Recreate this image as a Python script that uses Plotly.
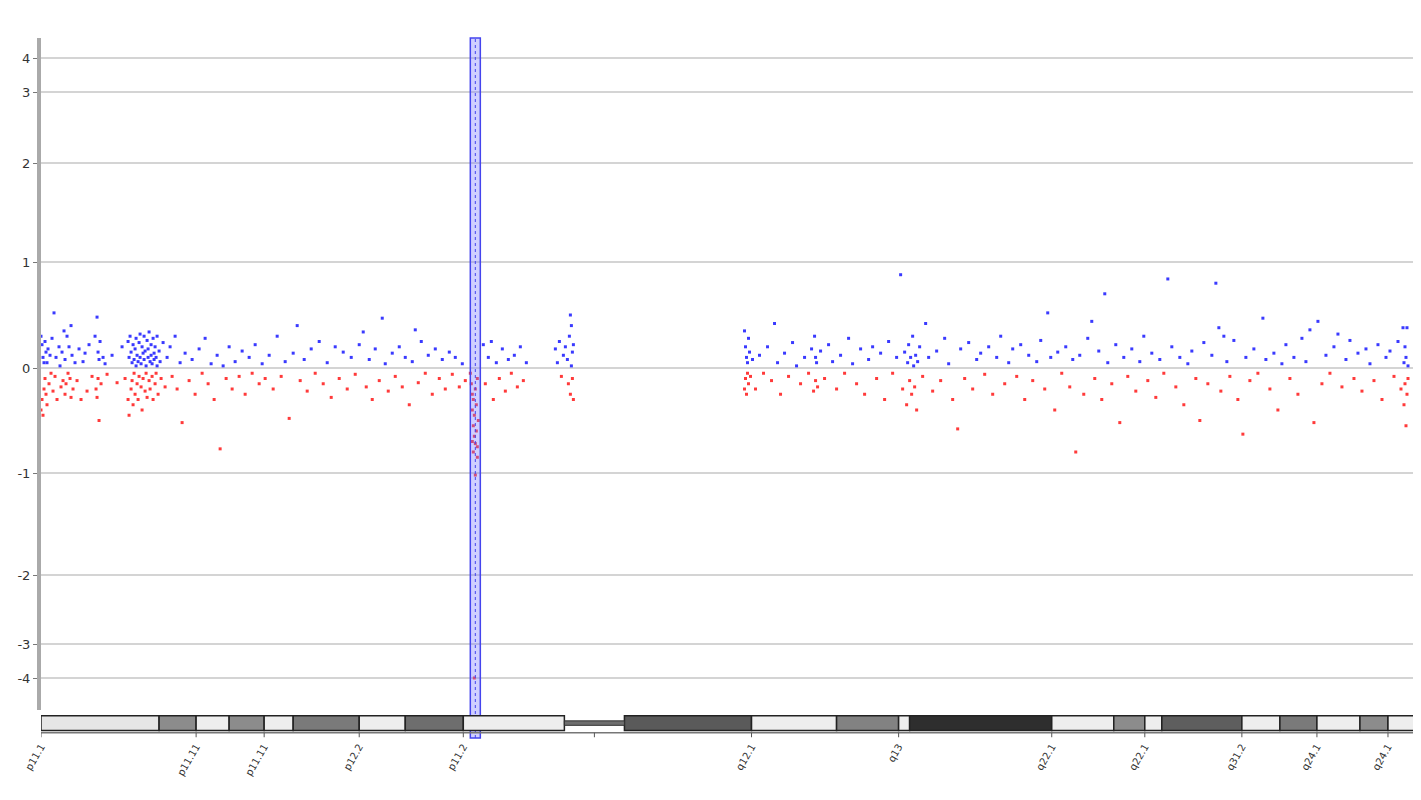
import numpy as np
import plotly.graph_objects as go

# y axis of the viewer is compressed: tick value -> screen level
tick_vals = [-4, -3, -2, -1, 0, 1, 2, 3, 4]
tick_level = [670, 636, 567, 465, 360, 254, 155, 84, 50]

# probe positions / log ratios (p arm)
p_arm = [
    (34, 0.30), (34, -0.40), (35, 0.22), (35, -0.30), (36, 0.10), (36, -0.45), (37, 0.05), (37, -0.20),
    (38, 0.25), (38, -0.10), (39, 0.15), (39, -0.25), (40, 0.05), (40, -0.35), (41, 0.18), (42, -0.15),
    (43, 0.12), (44, -0.05), (45, 0.28), (46, -0.22), (47, 0.52), (48, -0.08), (49, 0.10), (50, -0.30),
    (52, 0.20), (53, 0.02), (54, -0.18), (55, 0.15), (56, -0.12), (57, 0.35), (58, -0.25), (58, 0.08),
    (59, -0.15), (60, 0.30), (61, -0.05), (62, 0.20), (63, -0.10), (64, 0.40), (64, -0.28), (65, 0.12),
    (66, -0.20), (68, 0.05), (70, -0.12), (72, 0.18), (74, -0.30), (76, 0.06), (78, 0.14), (80, -0.22),
    (82, 0.22), (85, -0.08), (88, 0.30), (89, -0.20), (90, 0.48), (90, -0.28), (91, 0.15), (91, -0.10),
    (92, 0.08), (92, -0.50), (93, 0.25), (94, -0.15), (96, 0.10), (98, 0.04), (100, -0.06), (105, 0.12),
    (110, -0.14), (115, 0.20), (118, -0.10),
    (121, 0.25), (121, -0.30), (122, 0.10), (122, -0.45), (123, 0.30), (124, -0.20), (124, 0.15),
    (125, 0.05), (125, -0.12), (126, 0.22), (126, -0.35), (127, 0.08), (127, -0.05), (128, 0.18),
    (128, -0.25), (129, 0.28), (129, 0.02), (130, -0.15), (130, 0.12), (131, 0.06), (131, -0.30),
    (132, 0.24), (132, -0.08), (133, 0.32), (133, 0.10), (134, -0.18), (134, 0.04), (135, 0.20),
    (135, -0.40), (136, 0.14), (136, -0.10), (137, 0.30), (137, 0.08), (138, -0.22), (138, 0.16),
    (139, 0.02), (139, -0.05), (140, 0.26), (140, -0.28), (141, 0.10), (141, 0.18), (142, -0.12),
    (142, 0.34), (143, 0.06), (143, -0.20), (144, 0.22), (144, 0.12), (145, -0.08), (145, 0.04),
    (146, 0.28), (146, -0.30), (147, 0.14), (147, 0.08), (148, -0.15), (148, 0.20), (149, 0.10),
    (149, -0.05), (150, 0.30), (150, 0.02), (151, -0.25), (152, 0.16), (153, 0.06), (154, -0.10),
    (156, 0.24), (158, -0.18), (160, 0.10), (163, 0.20), (165, -0.08), (168, 0.30), (170, -0.20),
    (173, 0.05), (175, -0.52), (178, 0.14), (182, -0.12), (185, 0.08), (188, -0.25), (192, 0.18),
    (195, -0.05), (198, 0.28), (201, -0.15), (204, 0.04), (207, -0.30), (210, 0.12), (213, -0.77),
    (216, 0.02), (219, -0.10), (222, 0.20), (225, -0.20), (228, 0.06), (232, -0.08), (235, 0.16),
    (238, -0.25), (242, 0.10), (245, -0.05), (248, 0.22), (252, -0.15), (255, 0.04), (258, -0.10),
    (262, 0.12), (266, -0.20), (270, 0.30), (274, -0.08), (278, 0.06), (282, -0.48), (286, 0.14),
    (290, 0.40), (293, -0.12), (297, 0.08), (300, -0.22), (304, 0.18), (308, -0.05), (312, 0.25),
    (316, -0.15), (320, 0.05), (324, -0.28), (328, 0.20), (332, -0.10), (336, 0.15), (340, -0.20),
    (344, 0.10), (348, -0.06), (352, 0.22), (356, 0.34), (359, -0.18), (362, 0.08), (365, -0.30),
    (368, 0.18), (372, -0.12), (375, 0.47), (378, 0.04), (381, -0.22), (385, 0.14), (388, -0.08),
    (392, 0.20), (395, -0.18), (398, 0.10), (402, -0.35), (405, 0.06), (408, 0.36), (411, -0.14),
    (414, 0.25), (418, -0.05), (421, 0.12), (425, -0.25), (428, 0.18), (432, -0.10), (435, 0.08),
    (438, -0.20), (442, 0.15), (445, -0.06), (448, 0.10), (452, -0.18), (455, 0.04), (458, -0.12),
    (476, 0.22), (478, -0.15), (481, 0.10), (484, 0.25), (486, -0.30), (489, 0.05), (492, -0.10),
    (495, 0.18), (498, -0.22), (501, 0.08), (504, -0.05), (507, 0.12), (510, -0.18), (513, 0.20),
    (516, -0.12), (519, 0.05),
    (548, 0.18), (550, 0.05), (552, 0.25), (554, -0.08), (556, 0.12), (558, 0.20), (560, 0.08),
    (561, -0.15), (562, 0.30), (563, 0.50), (563, -0.25), (564, 0.40), (564, 0.02), (565, -0.10),
    (565, 0.15), (566, -0.30), (566, 0.22),
]

# the highlighted region (log ratio drop)
loss_pos = [463, 464, 465, 465, 466, 466, 467, 467, 468, 468, 469, 469, 470, 470, 471, 466, 468, 470, 467, 465]
loss_val = [-0.05, -0.15, -0.25, -0.40, -0.30, -0.55, -0.45, -0.65, -0.20, -0.72, -0.35, -0.60,
            -0.10, -0.75, -0.50, -0.80, -1.02, -0.85, -4.0, -0.70]

# q arm
q_arm = [
    (737, 0.35), (737, -0.20), (738, 0.20), (738, -0.10), (739, 0.10), (739, -0.25), (740, 0.05),
    (740, -0.05), (741, 0.28), (741, -0.15), (742, 0.15), (743, -0.08), (745, 0.08), (748, -0.20),
    (752, 0.12), (756, -0.05), (760, 0.20), (764, -0.12), (767, 0.42), (770, 0.05), (773, -0.25),
    (777, 0.14), (781, -0.08), (785, 0.24), (789, 0.02), (793, -0.15), (797, 0.10), (801, -0.05),
    (804, 0.18), (806, -0.22), (807, 0.30), (808, -0.12), (808, 0.10), (809, 0.05), (810, -0.18),
    (813, 0.16), (817, -0.10), (821, 0.22), (825, 0.06), (829, -0.20), (833, 0.12), (837, -0.05),
    (841, 0.28), (845, 0.04), (849, -0.15), (853, 0.18), (857, -0.25), (861, 0.08), (865, 0.20),
    (869, -0.10), (873, 0.14), (877, -0.30), (881, 0.25), (885, -0.05), (889, 0.10), (893, 0.88),
    (895, -0.20), (897, 0.15), (899, -0.35), (900, 0.05), (901, 0.22), (902, -0.12), (903, 0.10),
    (904, -0.25), (905, 0.30), (906, 0.02), (907, -0.18), (908, 0.12), (909, -0.40), (910, 0.06),
    (912, 0.20), (915, -0.08), (918, 0.42), (921, 0.10), (925, -0.22), (929, 0.16), (933, -0.12),
    (937, 0.28), (941, 0.04), (945, -0.30), (950, -0.58), (953, 0.18), (957, -0.10), (961, 0.24),
    (965, -0.20), (969, 0.08), (973, 0.14), (977, -0.06), (981, 0.20), (985, -0.25), (989, 0.10),
    (993, 0.30), (997, -0.15), (1001, 0.05), (1005, 0.18), (1009, -0.08), (1013, 0.22), (1017, -0.30),
    (1021, 0.12), (1025, -0.12), (1029, 0.06), (1033, 0.26), (1037, -0.20), (1040, 0.52), (1043, 0.10),
    (1047, -0.40), (1050, 0.15), (1054, -0.05), (1058, 0.20), (1062, -0.18), (1065, 0.08), (1068, -0.80),
    (1072, 0.12), (1076, -0.25), (1080, 0.28), (1084, 0.44), (1087, -0.10), (1091, 0.16), (1094, -0.30),
    (1097, 0.70), (1100, 0.05), (1104, -0.15), (1108, 0.22), (1112, -0.52), (1116, 0.10), (1120, -0.08),
    (1124, 0.18), (1128, -0.22), (1132, 0.06), (1136, 0.30), (1140, -0.12), (1144, 0.14), (1148, -0.28),
    (1152, 0.08), (1156, -0.05), (1160, 0.84), (1164, 0.20), (1168, -0.18), (1172, 0.10), (1176, -0.35),
    (1180, 0.04), (1184, 0.16), (1188, -0.10), (1192, -0.50), (1196, 0.24), (1200, -0.15), (1204, 0.12),
    (1208, 0.80), (1211, 0.38), (1213, -0.22), (1216, 0.30), (1219, 0.06), (1222, -0.08), (1226, 0.26),
    (1230, -0.30), (1235, -0.63), (1238, 0.10), (1242, -0.12), (1246, 0.18), (1250, -0.05), (1255, 0.47),
    (1258, 0.08), (1262, -0.20), (1266, 0.14), (1270, -0.40), (1274, 0.04), (1278, 0.22), (1282, -0.10),
    (1286, 0.10), (1290, -0.25), (1294, 0.28), (1298, 0.06), (1302, 0.36), (1306, -0.52), (1310, 0.44),
    (1314, -0.15), (1318, 0.12), (1322, -0.05), (1326, 0.20), (1330, 0.32), (1334, -0.18), (1338, 0.08),
    (1342, 0.26), (1346, -0.10), (1350, 0.14), (1354, -0.22), (1358, 0.18), (1362, 0.04), (1366, -0.12),
    (1370, 0.22), (1374, -0.30), (1378, 0.10), (1382, 0.16), (1386, -0.08), (1390, 0.25), (1393, -0.20),
    (1395, 0.38), (1396, 0.05), (1396, -0.35), (1397, 0.20), (1397, -0.15), (1398, -0.55), (1398, 0.10),
    (1399, 0.38), (1399, -0.25), (1400, 0.02), (1400, -0.10),
]

# cytoband ideogram: start, end, stain shade
band_start = [34, 152, 189, 222, 257, 286, 352, 398, 456, 617, 744, 829, 891, 902, 1044, 1106, 1137,
              1154, 1234, 1272, 1309, 1352, 1380]
band_end = [152, 189, 222, 257, 286, 352, 398, 456, 557, 744, 829, 891, 902, 1044, 1106, 1137, 1154,
            1234, 1272, 1309, 1352, 1380, 1406]
band_color = ["#e6e6e6", "#8c8c8c", "#eeeeee", "#8c8c8c", "#eeeeee", "#7a7a7a", "#eeeeee", "#6e6e6e",
              "#eeeeee", "#5a5a5a", "#eeeeee", "#828282", "#eeeeee", "#2e2e2e", "#eeeeee", "#8c8c8c",
              "#eeeeee", "#5e5e5e", "#eeeeee", "#7a7a7a", "#eeeeee", "#8c8c8c", "#eeeeee"]
centromere = (557, 617)

band_tick_pos = [34, 189, 257, 352, 456, 587, 744, 891, 1044, 1137, 1234, 1309, 1380]
band_tick_text = ["p11.1", "p11.11", "p11.11", "p12.2", "p11.2", "", "q12.1", "q13", "q22.1",
                  "q22.1", "q31.2", "q24.1", "q24.1"]

highlight = (463, 473)


def level(v):
    return -np.interp(v, tick_vals, tick_level)


pos = np.array([p[0] for p in p_arm + q_arm] + loss_pos)
val = np.array([p[1] for p in p_arm + q_arm] + loss_val)
gain = val >= 0

fig = go.Figure()
fig.add_trace(go.Scatter(x=pos[gain], y=level(val[gain]), mode="markers",
                         marker=dict(symbol="square", size=3, color="#3a3aff"), xaxis="x", yaxis="y"))
fig.add_trace(go.Scatter(x=pos[~gain], y=level(val[~gain]), mode="markers",
                         marker=dict(symbol="square", size=3, color="#ff3a3a"), xaxis="x", yaxis="y"))

shapes = []
# highlighted region across the whole plot
shapes.append(dict(type="rect", xref="x", yref="paper", x0=highlight[0], x1=highlight[1], y0=0, y1=1,
                   fillcolor="rgba(120,120,255,0.35)", line=dict(color="#4444ee", width=1.5)))
shapes.append(dict(type="line", xref="x", yref="paper", x0=sum(highlight) / 2, x1=sum(highlight) / 2,
                   y0=0, y1=1, line=dict(color="#4444ee", width=1, dash="dot")))
# ideogram bands
for s, e, c in zip(band_start, band_end, band_color):
    shapes.append(dict(type="rect", xref="x", yref="y2", x0=s, x1=e, y0=0, y1=1,
                       fillcolor=c, line=dict(color="#222222", width=1.5)))
shapes.append(dict(type="rect", xref="x", yref="y2", x0=centromere[0], x1=centromere[1], y0=0.35, y1=0.65,
                   fillcolor="#6e6e6e", line=dict(color="#333333", width=1)))
# baseline of ideogram
shapes.append(dict(type="line", xref="x", yref="y2", x0=band_start[0], x1=band_end[-1], y0=-0.15, y1=-0.15,
                   line=dict(color="#777777", width=1.5)))
for t in band_tick_pos:
    shapes.append(dict(type="line", xref="x", yref="y2", x0=t, x1=t, y0=-0.15, y1=-0.45,
                       line=dict(color="#555555", width=1)))

fig.update_layout(
    width=1421, height=800, showlegend=False,
    plot_bgcolor="white", paper_bgcolor="white",
    margin=dict(l=33, r=15, t=30, b=70),
    font=dict(family="DejaVu Sans", size=12, color="#333333"),
    shapes=shapes,
    xaxis=dict(range=[34, 1406], showgrid=False, zeroline=False, showline=False,
               tickvals=band_tick_pos, ticktext=band_tick_text, tickangle=-60,
               tickfont=dict(size=10), ticks="", anchor="y2", automargin=False),
    yaxis=dict(domain=[0.04, 1], range=[-702, -30],
               tickvals=[level(v) for v in tick_vals], ticktext=[str(v) for v in tick_vals],
               showgrid=True, gridcolor="#d4d4d4", gridwidth=1.5, zeroline=False,
               showline=True, linecolor="#aaaaaa", linewidth=4, ticks="outside", ticklen=4,
               tickcolor="#777777", tickfont=dict(size=13), automargin=False),
    yaxis2=dict(domain=[0, 0.033], range=[-0.5, 1.05], visible=False),
)

fig.write_html("out.html")
